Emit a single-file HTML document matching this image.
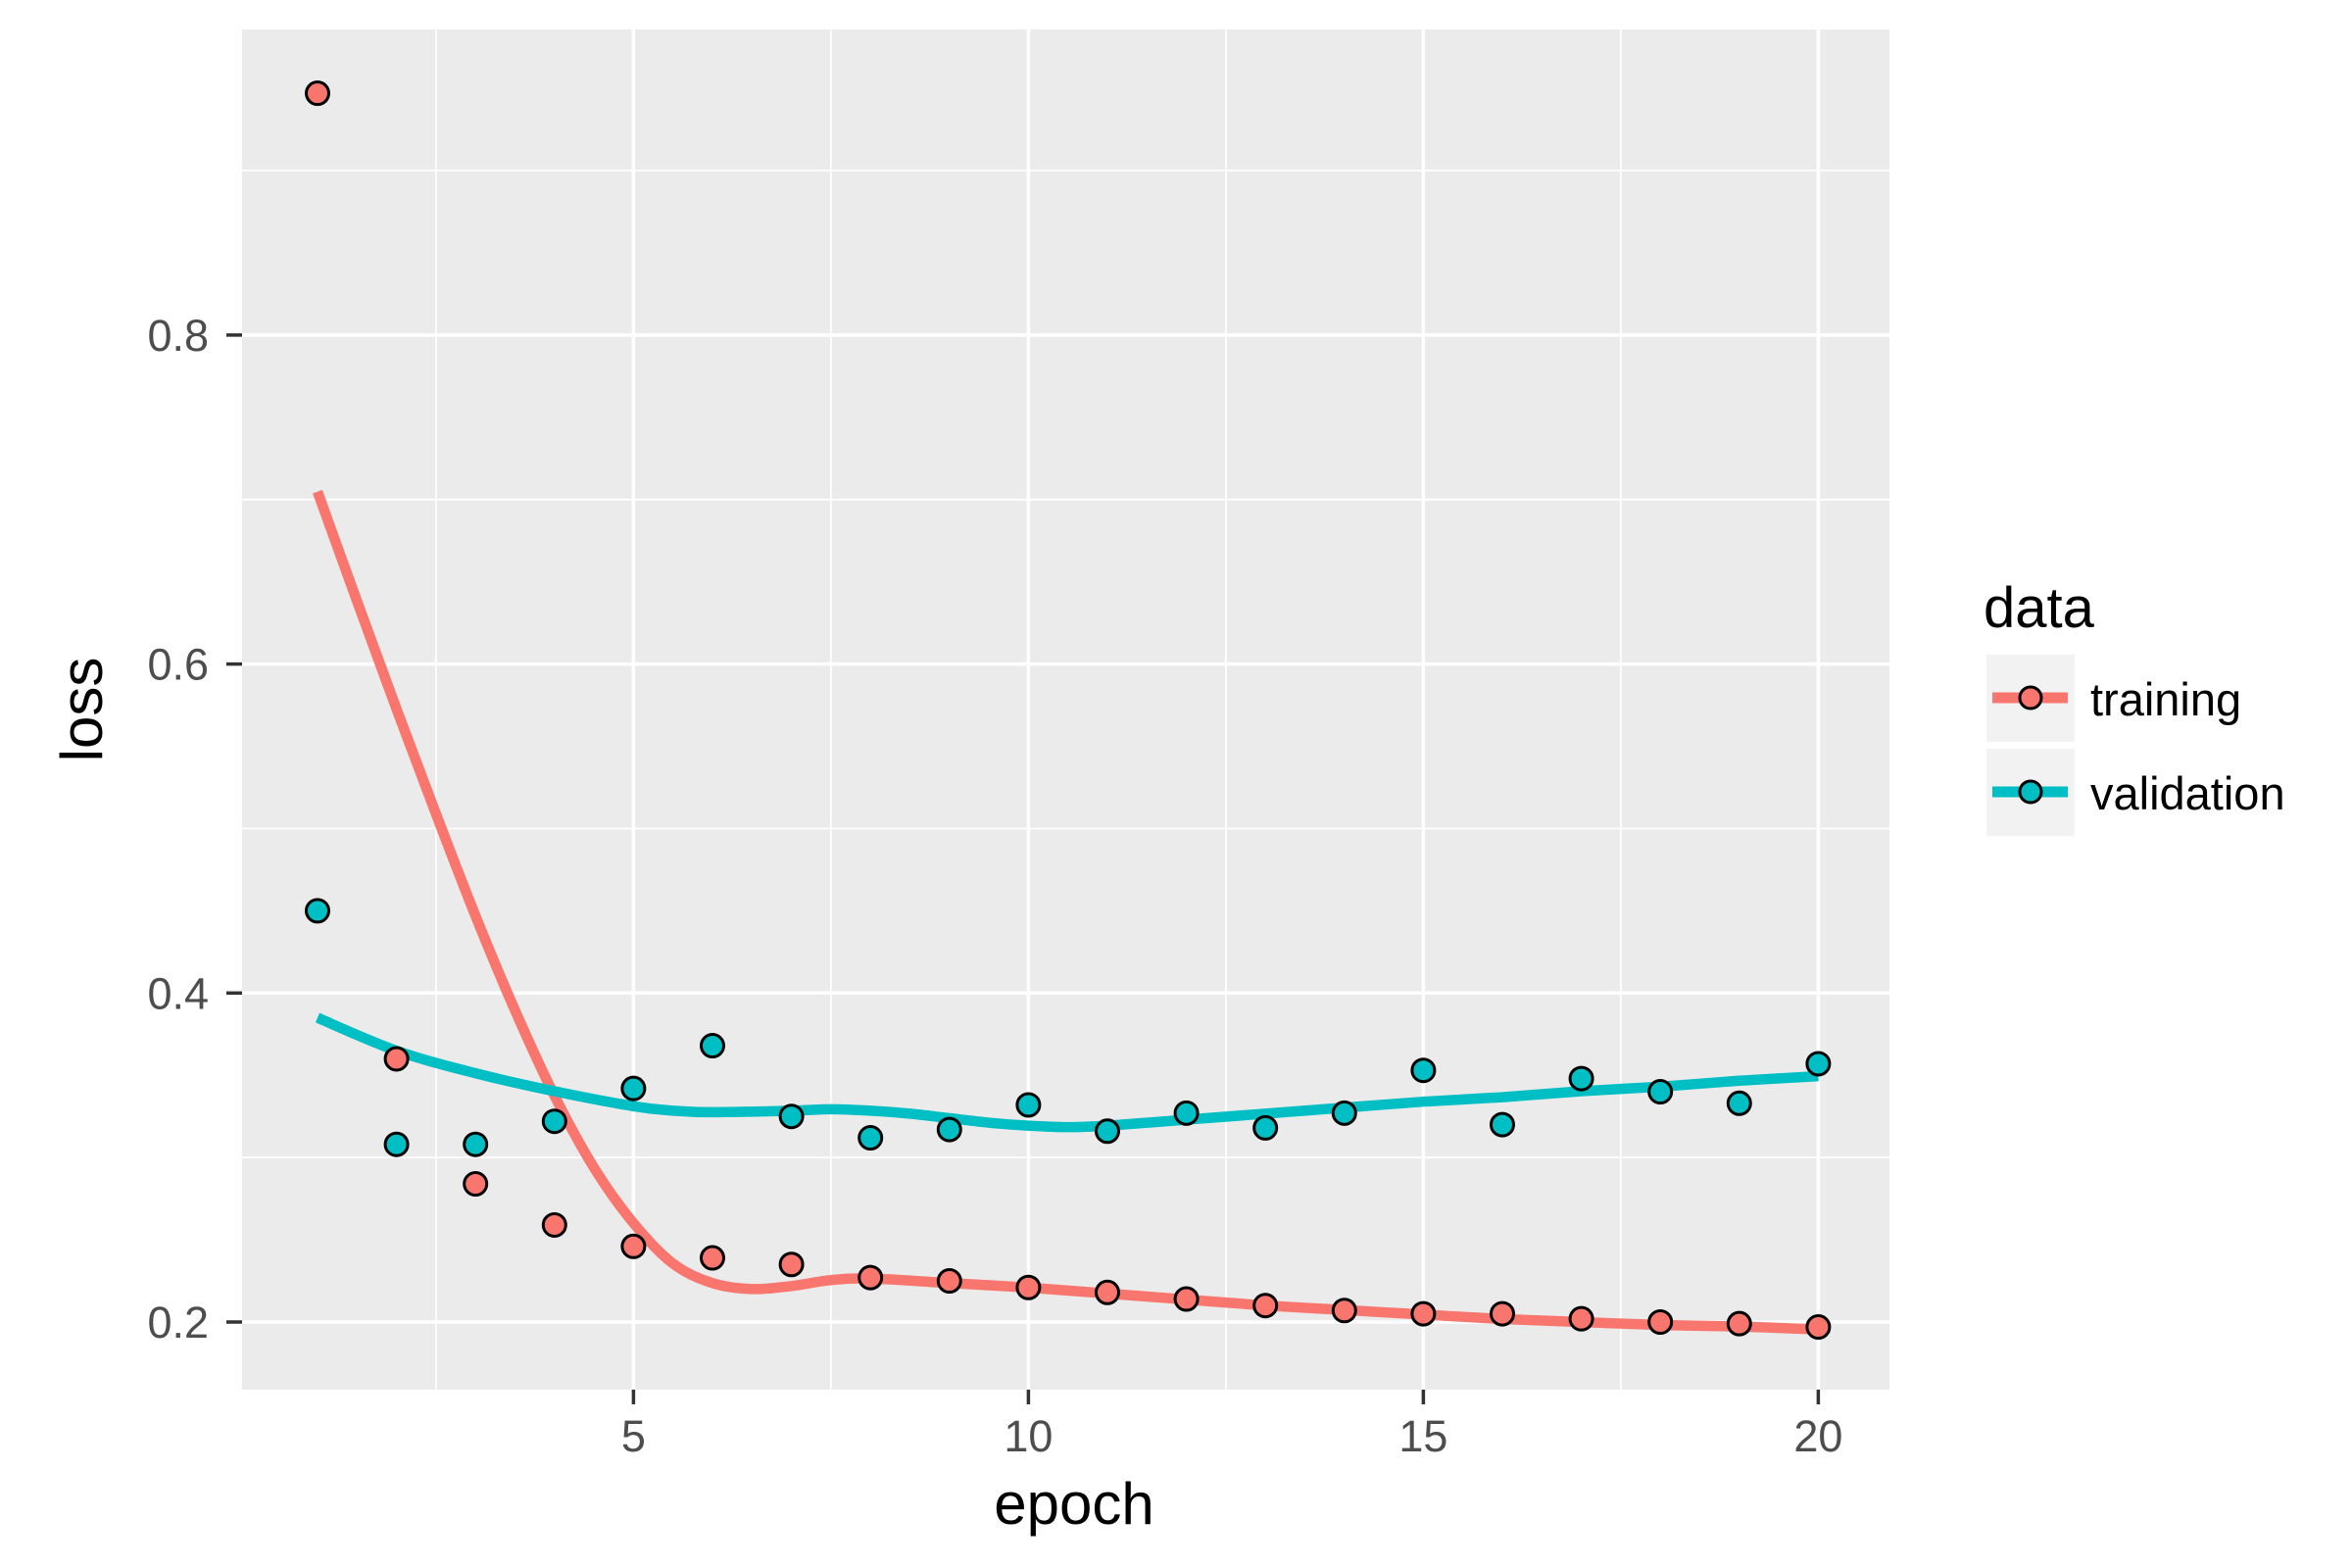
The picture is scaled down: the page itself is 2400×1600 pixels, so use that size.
<!DOCTYPE html>
<html><head><style>body{margin:0;background:#fff}svg{display:block}text{font-family:"Liberation Sans",sans-serif}</style></head>
<body>
<svg id="s" width="2400" height="1600" xmlns="http://www.w3.org/2000/svg">
<rect width="2400" height="1600" fill="#fff"/>
<rect x="247" y="30" width="1681" height="1388" fill="#ebebeb"/>
<g id="grid"></g>
<g id="ser"></g>
<g font-size="45" fill="#4d4d4d" text-anchor="end" id="yl"></g>
<g font-size="45" fill="#4d4d4d" text-anchor="middle" id="xl"></g>
<text x="1096" y="1555" font-size="60" text-anchor="middle" fill="#000">epoch</text>
<text transform="translate(104,724) rotate(-90)" font-size="60" text-anchor="middle" fill="#000">loss</text>
<text x="2024" y="640" font-size="58" fill="#000">data</text>
<rect x="2027" y="668" width="90" height="89" fill="#f2f2f2"/>
<rect x="2027" y="764" width="90" height="89" fill="#f2f2f2"/>
<line x1="2033" y1="712" x2="2110" y2="712" stroke="#f8766d" stroke-width="11"/>
<circle cx="2072" cy="712" r="11" fill="#f8766d" stroke="#000" stroke-width="3"/>
<line x1="2033" y1="808" x2="2110" y2="808" stroke="#00bfc4" stroke-width="11"/>
<circle cx="2072" cy="808" r="11" fill="#00bfc4" stroke="#000" stroke-width="3"/>
<text x="2133" y="730" font-size="47" fill="#000">training</text>
<text x="2133" y="826" font-size="47" fill="#000">validation</text>
</svg>
<script>
var NS="http://www.w3.org/2000/svg";
function X(e){return 324+(e-1)*80.6;}
function Y(v){return 1349-(v-0.2)*1678.5;}
function D(d){return 1349-(881-d)*1.5294;}
function el(p,t,a,txt){var n=document.createElementNS(NS,t);for(var k in a)n.setAttribute(k,a[k]);if(txt)n.textContent=txt;document.getElementById(p).appendChild(n);}
[0.3,0.5,0.7,0.9].forEach(function(v){el('grid','line',{x1:247,x2:1928,y1:Y(v),y2:Y(v),stroke:'#fff','stroke-width':1.7});});
[2.5,7.5,12.5,17.5].forEach(function(v){el('grid','line',{y1:30,y2:1418,x1:X(v),x2:X(v),stroke:'#fff','stroke-width':1.7});});
[0.2,0.4,0.6,0.8].forEach(function(v){el('grid','line',{x1:247,x2:1928,y1:Y(v),y2:Y(v),stroke:'#fff','stroke-width':3.5});
el('grid','line',{x1:231,x2:247,y1:Y(v),y2:Y(v),stroke:'#333','stroke-width':3.5});
el('yl','text',{x:213,y:Y(v)+16},v.toFixed(1));});
[5,10,15,20].forEach(function(v){el('grid','line',{y1:30,y2:1418,x1:X(v),x2:X(v),stroke:'#fff','stroke-width':3.5});
el('grid','line',{y1:1418,y2:1433,x1:X(v),x2:X(v),stroke:'#333','stroke-width':3.5});
el('xl','text',{x:X(v),y:1481},String(v));});
var tr=[0.947,0.360,0.284,0.259,0.246,0.239,0.235,0.227,0.225,0.221,0.218,0.214,0.210,0.207,0.205,0.205,0.202,0.200,0.199,0.197];
var va=[0.450,0.308,0.308,0.322,0.342,0.368,0.325,0.312,0.317,0.332,0.316,0.327,0.318,0.327,0.353,0.320,0.348,0.340,0.333,0.357];
var ts=[[1,327],[1.5,400],[2,472],[2.5,542],[3,610],[3.5,673],[4,730],[4.5,778],[5,815],[5.5,842],[6,855],[6.5,859],[7,857],[7.5,853],[8,852],[9,855],[10,858],[11,862],[12,866],[13,870],[14,873],[15,876],[16,879],[17,881],[18,883],[19,884],[20,886]];
var vs=[[1,678],[2,700],[3,715],[4,727],[5,737],[5.5,740],[6,741],[7,740],[7.5,739],[8,740],[8.5,742],[9,745],[9.5,748],[10,750],[10.5,751],[11,750],[12,746],[13,742],[14,738],[15,734],[16,731],[17,727],[18,724],[19,720],[20,717]];
function path(a){var p=a.map(function(q){return [X(q[0]),D(q[1])];});var s='M'+p[0][0]+' '+p[0][1];
for(var i=0;i<p.length-1;i++){var p0=p[i-1]||p[i],p1=p[i],p2=p[i+1],p3=p[i+2]||p2;
s+=' C'+(p1[0]+(p2[0]-p0[0])/6)+' '+(p1[1]+(p2[1]-p0[1])/6)+' '+(p2[0]-(p3[0]-p1[0])/6)+' '+(p2[1]-(p3[1]-p1[1])/6)+' '+p2[0]+' '+p2[1];}return s;}
el('ser','path',{d:path(ts),fill:'none',stroke:'#f8766d','stroke-width':10.5,'stroke-linejoin':'round'});
el('ser','path',{d:path(vs),fill:'none',stroke:'#00bfc4','stroke-width':10.5,'stroke-linejoin':'round'});
for(var i=0;i<20;i++){el('ser','circle',{cx:X(i+1),cy:Y(tr[i]),r:11.5,fill:'#f8766d',stroke:'#000','stroke-width':3});
el('ser','circle',{cx:X(i+1),cy:Y(va[i]),r:11.5,fill:'#00bfc4',stroke:'#000','stroke-width':3});}
</script>
</body></html>
